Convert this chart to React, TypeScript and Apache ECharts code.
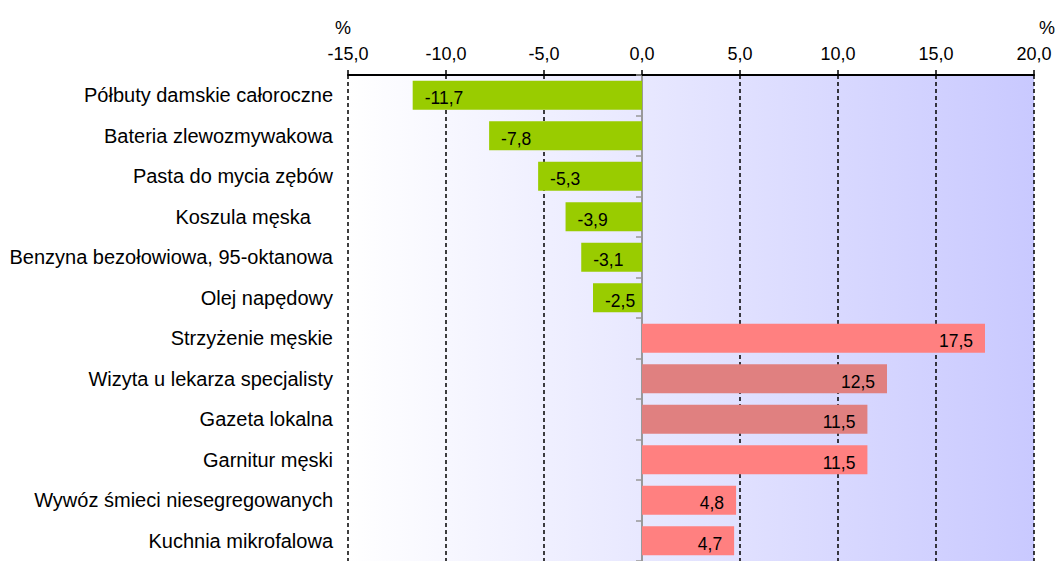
import React, { useEffect, useRef } from "react";
import * as echarts from "echarts";

const categories = [
  "Półbuty damskie całoroczne",
  "Bateria zlewozmywakowa",
  "Pasta do mycia zębów",
  "Koszula męska",
  "Benzyna bezołowiowa, 95-oktanowa",
  "Olej napędowy",
  "Strzyżenie męskie",
  "Wizyta u lekarza specjalisty",
  "Gazeta lokalna",
  "Garnitur męski",
  "Wywóz śmieci niesegregowanych",
  "Kuchnia mikrofalowa",
];

const values = [-11.7, -7.8, -5.3, -3.9, -3.1, -2.5, 17.5, 12.5, 11.5, 11.5, 4.8, 4.7];

const barColors = [
  "#99cc00", "#99cc00", "#99cc00", "#99cc00", "#99cc00", "#99cc00",
  "#ff8080", "#e08080", "#e08080", "#ff8080", "#ff8080", "#ff8080",
];

const xMin = -15;
const xMax = 20;
const xStep = 5;
const unitLabel = "%";

const FONT = "'Liberation Sans', Arial, sans-serif";
const fmt = (v: number) => v.toFixed(1).replace(".", ",");

export default function App() {
  const ref = useRef<HTMLDivElement>(null);
  useEffect(() => {
    if (!ref.current) return;
    const chart = echarts.init(ref.current, undefined, { renderer: "svg" });
    const catData = categories.map((c) =>
      c === "Koszula męska"
        ? { value: c, textStyle: { padding: [0, 22, 0, 0] } }
        : c
    );
    chart.setOption({
      animation: false,
      backgroundColor: "#ffffff",
      textStyle: { fontFamily: FONT },
      grid: {
        left: 348,
        right: 23,
        top: 75,
        height: 491,
        show: true,
        borderWidth: 0,
        backgroundColor: new echarts.graphic.LinearGradient(0, 0, 1, 0, [
          { offset: 0, color: "#ffffff" },
          { offset: 1, color: "#c9c9ff" },
        ]),
      },
      xAxis: {
        type: "value",
        position: "top",
        min: xMin,
        max: xMax,
        interval: xStep,
        axisLine: { show: true, onZero: false, lineStyle: { color: "#000", width: 2 } },
        axisTick: { show: true, length: 5, lineStyle: { color: "#000", width: 1.5 } },
        axisLabel: {
          formatter: (v: number) => fmt(v),
          color: "#000",
          fontSize: 18,
          fontFamily: FONT,
          margin: 12,
        },
        splitLine: {
          show: true,
          lineStyle: { color: "#000", width: 1.5, type: [4, 3] },
        },
      },
      yAxis: [
        {
          type: "category",
          data: catData,
          inverse: true,
          position: "left",
          axisLine: { show: false, onZero: false },
          axisTick: { show: false },
          splitLine: { show: false },
          axisLabel: {
            color: "#000",
            fontSize: 20,
            fontFamily: FONT,
            margin: 15,
          },
        },
        {
          type: "category",
          data: categories,
          inverse: true,
          position: "left",
          axisLine: { show: true, onZero: true, lineStyle: { color: "#999999", width: 2 } },
          axisTick: { show: true, length: 6, lineStyle: { color: "#999999", width: 1.5 } },
          axisLabel: { show: false },
          splitLine: { show: false },
        },
      ],
      series: [
        {
          type: "bar",
          yAxisIndex: 0,
          barCategoryGap: "28%",
          data: values.map((v, i) => ({
            value: v,
            itemStyle: { color: barColors[i] },
            label: { position: v < 0 ? "insideLeft" : "insideRight" },
          })),
          label: {
            show: true,
            formatter: (p: any) => fmt(p.value),
            color: "#000",
            fontSize: 17.5,
            fontFamily: FONT,
            distance: 12,
            offset: [0, 3],
          },
        },
      ],
      graphic: [
        {
          type: "text",
          x: 343,
          y: 28,
          style: {
            text: unitLabel,
            font: `18px ${FONT}`,
            fill: "#000",
            align: "center",
            verticalAlign: "middle",
          },
        },
        {
          type: "text",
          x: 1047,
          y: 28,
          style: {
            text: unitLabel,
            font: `18px ${FONT}`,
            fill: "#000",
            align: "center",
            verticalAlign: "middle",
          },
        },
      ],
    });
    return () => chart.dispose();
  }, []);
  return (
    <div
      ref={ref}
      style={{ position: "absolute", left: 0, top: 0, width: 1057, height: 561 }}
    />
  );
}
